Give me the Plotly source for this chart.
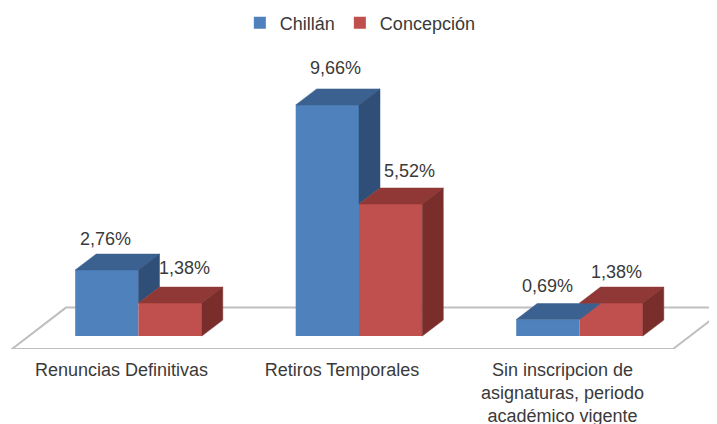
import plotly.graph_objects as go

categories = ["Renuncias Definitivas", "Retiros Temporales",
              "Sin inscripcion de<br>asignaturas, periodo<br>académico vigente"]
chillan = [2.76, 9.66, 0.69]
concepcion = [1.38, 5.52, 1.38]
chillan_label_shift = [(-1, 31), (8, 37), (0, 34)]
concepcion_label_shift = [(14, 35), (19, 33), (5, 31)]

BLUE, BLUE_TOP, BLUE_SIDE = "#4f81bd", "#3b6190", "#2f4f78"
RED, RED_TOP, RED_SIDE = "#c0504d", "#8f3836", "#7a2e2c"
TEXT = "#3a3a3a"
FONT = "Liberation Sans"

BAR_W = 0.287   # category units
DX, DY = 0.0952, 0.668  # oblique depth in data units
FLOOR_FRONT = -0.54
FLOOR_BACK = 1.19


def fmt(v):
    return f"{v:.2f}".replace(".", ",") + "%"


def poly(xs, ys, color):
    return go.Scatter(x=xs, y=ys, mode="lines", fill="toself", fillcolor=color,
                      line=dict(color=color, width=0.5), hoverinfo="skip", showlegend=False)


fig = go.Figure()
idx = list(range(len(categories)))
fig.add_bar(x=idx, y=chillan, name="Chillán", marker=dict(color=BLUE, line_width=0))
fig.add_bar(x=idx, y=concepcion, name="Concepción", marker=dict(color=RED, line_width=0))

for i, (a, b) in enumerate(zip(chillan, concepcion)):
    l, m, r = i - BAR_W, i, i + BAR_W
    fig.add_trace(poly([l, m, m + DX, l + DX, l], [a, a, a + DY, a + DY, a], BLUE_TOP))
    if a > b:
        fig.add_trace(poly([m, m + DX, m + DX, m, m], [a, a + DY, b + DY, b, a], BLUE_SIDE))
    fig.add_trace(poly([m, r, r + DX, m + DX, m], [b, b, b + DY, b + DY, b], RED_TOP))
    fig.add_trace(poly([r, r + DX, r + DX, r, r], [b, b + DY, DY, 0, b], RED_SIDE))

annotations = []
for i in idx:
    for v, off, (sx, sy) in ((chillan[i], -BAR_W / 2, chillan_label_shift[i]),
                             (concepcion[i], BAR_W / 2, concepcion_label_shift[i])):
        annotations.append(dict(x=i + off, y=v, text=fmt(v), showarrow=False, xshift=sx, yshift=sy,
                                xanchor="center", yanchor="middle",
                                font=dict(family=FONT, size=18, color=TEXT)))

# The page body has an 8 px margin, so the figure is 8 px smaller than the window.
fig.update_layout(
    width=709, height=416, autosize=False,
    margin=dict(l=0, r=0, t=0, b=74.5, pad=0, autoexpand=False),
    paper_bgcolor="white", plot_bgcolor="white",
    barmode="group", bargap=1 - 2 * BAR_W, bargroupgap=0,
    xaxis=dict(range=[-0.5918, 2.6236], tickmode="array", tickvals=idx, ticktext=categories,
               automargin=False,
               showgrid=False, zeroline=False, showline=False, ticks="outside", ticklen=4,
               tickcolor="rgba(0,0,0,0)", ticklabelshift=-17,
               tickfont=dict(family=FONT, size=18, color=TEXT)),
    yaxis=dict(range=[FLOOR_FRONT, 13.71], visible=False),
    legend=dict(orientation="h", x=0.327, xanchor="left", y=0.956, yanchor="middle",
                traceorder="normal",
                font=dict(family=FONT, size=18, color=TEXT), bgcolor="rgba(0,0,0,0)"),
    annotations=annotations,
    shapes=[dict(type="path", xref="x", yref="y", layer="below",
                 path=f"M -0.5737 {FLOOR_FRONT} L 2.424 {FLOOR_FRONT} L 2.669 {FLOOR_BACK} L -0.329 {FLOOR_BACK} Z",
                 line=dict(color="#bfbfbf", width=2), fillcolor="white")],
)
fig.write_html("out.html")
